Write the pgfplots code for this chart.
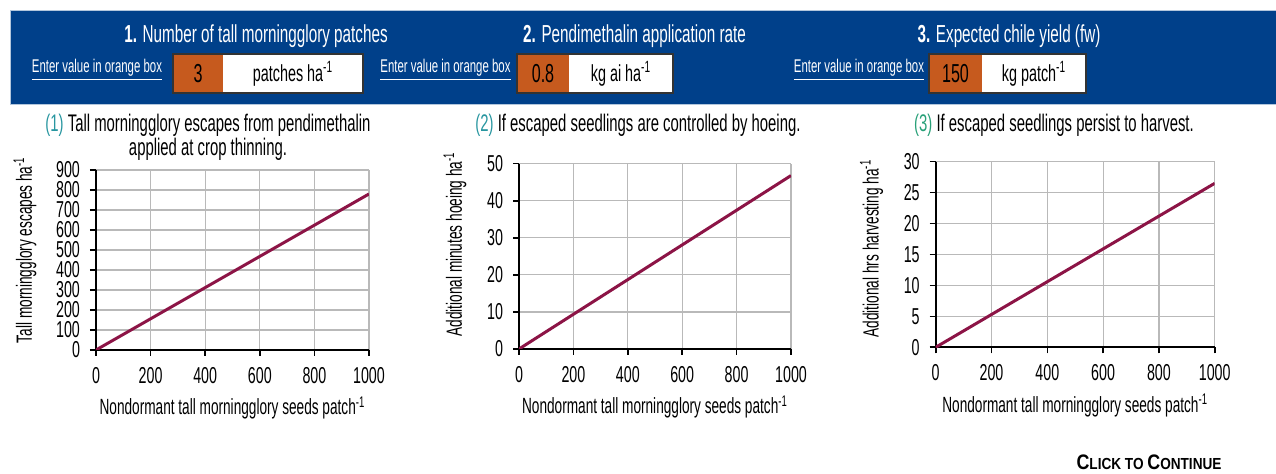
\documentclass[border=0pt]{standalone}
\usepackage{fontspec}
\setmainfont[FakeStretch=0.62]{Liberation Sans}
\newfontfamily\clickfont[FakeStretch=0.85]{Liberation Sans}
\usepackage{pgfplots}
\pgfplotsset{compat=1.18}
\definecolor{banner}{RGB}{0,64,138}
\definecolor{boxorange}{RGB}{198,90,30}
\definecolor{linecol}{RGB}{140,20,70}
\definecolor{tealA}{RGB}{40,150,160}
\definecolor{tealB}{RGB}{40,160,120}
\definecolor{gridgray}{RGB}{185,185,185}
\pgfplotsset{mystyle/.style={
  scale only axis, axis lines=left, axis line style={-, black, line width=1pt},
  xmin=0, xmax=1000, xtick={0,200,...,1000}, ymin=0,
  grid=major, grid style={gridgray, line width=0.6pt},
  tick align=outside, tick style={black, line width=0.8pt}, major tick length=3pt,
  /pgf/number format/assume math mode=true,
  /pgf/number format/1000 sep={},
  tick label style={font=\fontsize{11.5}{13}\selectfont},
  label style={font=\fontsize{11}{12}\selectfont},
  xlabel={Nondormant tall morningglory seeds patch\textsuperscript{-1}},
  xlabel style={at={(axis description cs:0.5,0)}, anchor=center, yshift=-29pt},
  ylabel style={at={(axis description cs:0,0.5)}, anchor=center},
  x tick label style={yshift=-2pt},
  y tick label style={xshift=-1.5pt},
  anchor=south west,
}}
\begin{document}
\begin{tikzpicture}
\path[use as bounding box] (0,0) rectangle (638pt,237pt);
\begin{scope}[x=0.5pt,y=-0.5pt,yshift=237pt]
  \fill[banner] (10,10.7) rectangle (1276,105);
  \draw[white!70!banner, line width=0.5pt] (10,10.7) rectangle (1276,105);
  \node[text=white, font=\fontsize{12.3}{14}\selectfont] at (256,36) {\textbf{1.} Number of tall morningglory patches};
  \node[text=white, font=\fontsize{12.3}{14}\selectfont] at (634.5,36) {\textbf{2.} Pendimethalin application rate};
  \node[text=white, font=\fontsize{12.3}{14}\selectfont] at (1009,36) {\textbf{3.} Expected chile yield (fw)};
  % row 1
  \node[text=white, font=\fontsize{9.2}{11}\selectfont] at (97,70) {\underline{Enter value in orange box}};
  \fill[boxorange] (173,54) rectangle (223,93);
  \fill[white] (223,54) rectangle (363,93);
  \draw[black!80, line width=0.6pt] (173,54) rectangle (363,93);
  \node[font=\fontsize{13}{14}\selectfont] at (198,74) {3};
  \node[font=\fontsize{11.6}{13}\selectfont] at (293,74) {patches ha\textsuperscript{-1}};
  % row 2
  \node[text=white, font=\fontsize{9.2}{11}\selectfont] at (445.5,70) {\underline{Enter value in orange box}};
  \fill[boxorange] (517,54) rectangle (569,93);
  \fill[white] (569,54) rectangle (673,93);
  \draw[black!80, line width=0.6pt] (517,54) rectangle (673,93);
  \node[font=\fontsize{13}{14}\selectfont] at (543,74) {0.8};
  \node[font=\fontsize{11.6}{13}\selectfont] at (621,74) {kg ai ha\textsuperscript{-1}};
  % row 3
  \node[text=white, font=\fontsize{9.2}{11}\selectfont] at (859,70) {\underline{Enter value in orange box}};
  \fill[boxorange] (929,54) rectangle (982,93);
  \fill[white] (982,54) rectangle (1086,93);
  \draw[black!80, line width=0.6pt] (929,54) rectangle (1086,93);
  \node[font=\fontsize{13}{14}\selectfont] at (955.5,74) {150};
  \node[font=\fontsize{11.6}{13}\selectfont] at (1034,74) {kg patch\textsuperscript{-1}};
  % chart titles
  \node[font=\fontsize{12}{14}\selectfont] at (208,125) {\textcolor{tealA}{(1)} Tall morningglory escapes from pendimethalin};
  \node[font=\fontsize{12}{14}\selectfont] at (208,149) {applied at crop thinning.};
  \node[font=\fontsize{12}{14}\selectfont] at (638,125) {\textcolor{tealA}{(2)} If escaped seedlings are controlled by hoeing.};
  \node[font=\fontsize{12}{14}\selectfont] at (1054,125) {\textcolor{tealB}{(3)} If escaped seedlings persist to harvest.};
  \node[font=\clickfont\bfseries] at (1149,462) {\fontsize{10.5}{12}\selectfont C\fontsize{8}{9}\selectfont LICK TO \fontsize{10.5}{12}\selectfont C\fontsize{8}{9}\selectfont ONTINUE};
\end{scope}

\begin{axis}[mystyle, at={(48pt,62pt)}, width=136.5pt, height=90pt,
  ymax=900, ytick={0,100,...,900},
  ylabel={Tall morningglory escapes ha\textsuperscript{-1}},
  ylabel style={yshift=35.5pt, xshift=5pt}]
\addplot[linecol, line width=1.5pt] coordinates {(0,0) (1000,780)};
\end{axis}

\begin{axis}[mystyle, at={(259.5pt,62.5pt)}, width=136pt, height=92.65pt,
  ymax=50, ytick={0,10,...,50},
  ylabel={Additional minutes hoeing ha\textsuperscript{-1}},
  ylabel style={yshift=32pt, xshift=6pt}]
\addplot[linecol, line width=1.5pt] coordinates {(0,0) (1000,46.8)};
\end{axis}

\begin{axis}[mystyle, at={(467.85pt,63.35pt)}, width=139.5pt, height=92.8pt,
  ymax=30, ytick={0,5,...,30},
  ylabel={Additional hrs harvesting ha\textsuperscript{-1}},
  ylabel style={yshift=32pt, xshift=3pt}]
\addplot[linecol, line width=1.5pt] coordinates {(0,0) (1000,26.5)};
\end{axis}
\end{tikzpicture}
\end{document}
